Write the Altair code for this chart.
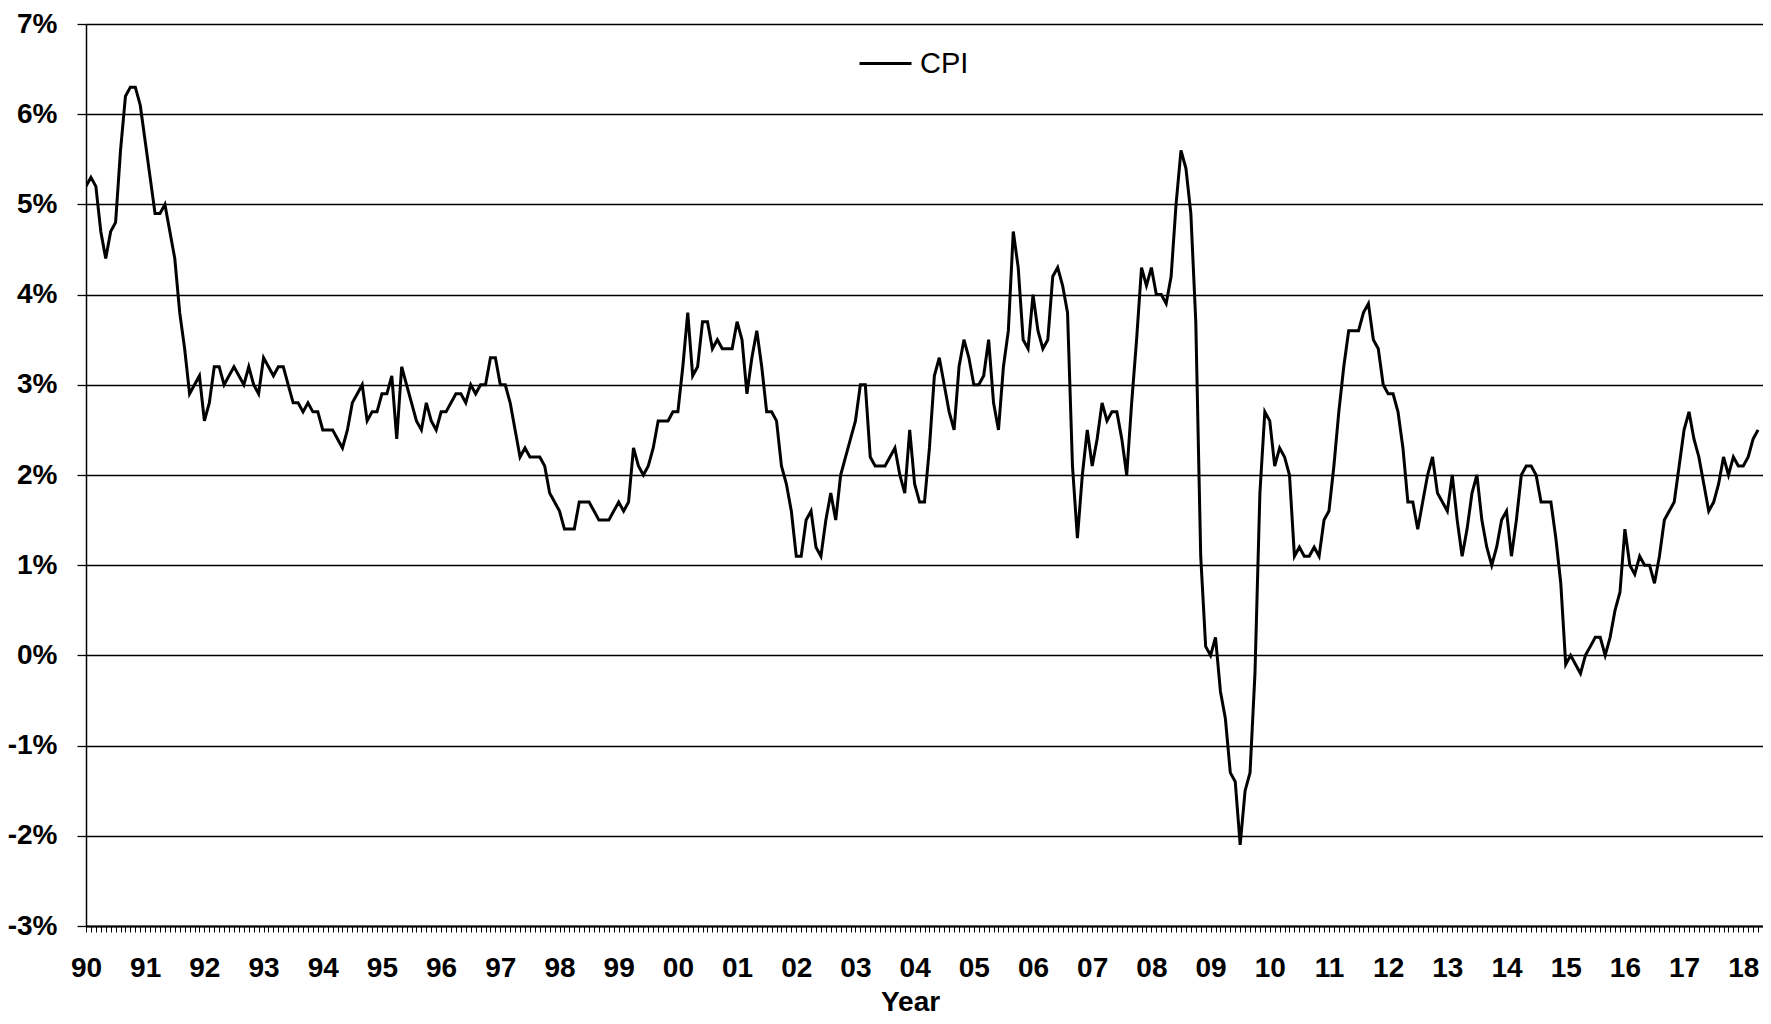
import json
import altair as alt
import pandas as pd

# Tick labels of the year axis (one per January)
year_labels = ["90", "91", "92", "93", "94", "95", "96", "97", "98", "99",
               "00", "01", "02", "03", "04", "05", "06", "07", "08", "09",
               "10", "11", "12", "13", "14", "15", "16", "17", "18"]
pct_ticks = [-3, -2, -1, 0, 1, 2, 3, 4, 5, 6, 7]

# Monthly CPI, year-over-year % (Jan..Dec)
cpi_1990 = [5.2, 5.3, 5.2, 4.7, 4.4, 4.7, 4.8, 5.6, 6.2, 6.3, 6.3, 6.1]
cpi_1991 = [5.7, 5.3, 4.9, 4.9, 5.0, 4.7, 4.4, 3.8, 3.4, 2.9, 3.0, 3.1]
cpi_1992 = [2.6, 2.8, 3.2, 3.2, 3.0, 3.1, 3.2, 3.1, 3.0, 3.2, 3.0, 2.9]
cpi_1993 = [3.3, 3.2, 3.1, 3.2, 3.2, 3.0, 2.8, 2.8, 2.7, 2.8, 2.7, 2.7]
cpi_1994 = [2.5, 2.5, 2.5, 2.4, 2.3, 2.5, 2.8, 2.9, 3.0, 2.6, 2.7, 2.7]
cpi_1995 = [2.9, 2.9, 3.1, 2.4, 3.2, 3.0, 2.8, 2.6, 2.5, 2.8, 2.6, 2.5]
cpi_1996 = [2.7, 2.7, 2.8, 2.9, 2.9, 2.8, 3.0, 2.9, 3.0, 3.0, 3.3, 3.3]
cpi_1997 = [3.0, 3.0, 2.8, 2.5, 2.2, 2.3, 2.2, 2.2, 2.2, 2.1, 1.8, 1.7]
cpi_1998 = [1.6, 1.4, 1.4, 1.4, 1.7, 1.7, 1.7, 1.6, 1.5, 1.5, 1.5, 1.6]
cpi_1999 = [1.7, 1.6, 1.7, 2.3, 2.1, 2.0, 2.1, 2.3, 2.6, 2.6, 2.6, 2.7]
cpi_2000 = [2.7, 3.2, 3.8, 3.1, 3.2, 3.7, 3.7, 3.4, 3.5, 3.4, 3.4, 3.4]
cpi_2001 = [3.7, 3.5, 2.9, 3.3, 3.6, 3.2, 2.7, 2.7, 2.6, 2.1, 1.9, 1.6]
cpi_2002 = [1.1, 1.1, 1.5, 1.6, 1.2, 1.1, 1.5, 1.8, 1.5, 2.0, 2.2, 2.4]
cpi_2003 = [2.6, 3.0, 3.0, 2.2, 2.1, 2.1, 2.1, 2.2, 2.3, 2.0, 1.8, 2.5]
cpi_2004 = [1.9, 1.7, 1.7, 2.3, 3.1, 3.3, 3.0, 2.7, 2.5, 3.2, 3.5, 3.3]
cpi_2005 = [3.0, 3.0, 3.1, 3.5, 2.8, 2.5, 3.2, 3.6, 4.7, 4.3, 3.5, 3.4]
cpi_2006 = [4.0, 3.6, 3.4, 3.5, 4.2, 4.3, 4.1, 3.8, 2.1, 1.3, 2.0, 2.5]
cpi_2007 = [2.1, 2.4, 2.8, 2.6, 2.7, 2.7, 2.4, 2.0, 2.8, 3.5, 4.3, 4.1]
cpi_2008 = [4.3, 4.0, 4.0, 3.9, 4.2, 5.0, 5.6, 5.4, 4.9, 3.7, 1.1, 0.1]
cpi_2009 = [0.0, 0.2, -0.4, -0.7, -1.3, -1.4, -2.1, -1.5, -1.3, -0.2, 1.8, 2.7]
cpi_2010 = [2.6, 2.1, 2.3, 2.2, 2.0, 1.1, 1.2, 1.1, 1.1, 1.2, 1.1, 1.5]
cpi_2011 = [1.6, 2.1, 2.7, 3.2, 3.6, 3.6, 3.6, 3.8, 3.9, 3.5, 3.4, 3.0]
cpi_2012 = [2.9, 2.9, 2.7, 2.3, 1.7, 1.7, 1.4, 1.7, 2.0, 2.2, 1.8, 1.7]
cpi_2013 = [1.6, 2.0, 1.5, 1.1, 1.4, 1.8, 2.0, 1.5, 1.2, 1.0, 1.2, 1.5]
cpi_2014 = [1.6, 1.1, 1.5, 2.0, 2.1, 2.1, 2.0, 1.7, 1.7, 1.7, 1.3, 0.8]
cpi_2015 = [-0.1, 0.0, -0.1, -0.2, 0.0, 0.1, 0.2, 0.2, 0.0, 0.2, 0.5, 0.7]
cpi_2016 = [1.4, 1.0, 0.9, 1.1, 1.0, 1.0, 0.8, 1.1, 1.5, 1.6, 1.7, 2.1]
cpi_2017 = [2.5, 2.7, 2.4, 2.2, 1.9, 1.6, 1.7, 1.9, 2.2, 2.0, 2.2, 2.1]
cpi_2018 = [2.1, 2.2, 2.4, 2.5]

yearly = [cpi_1990, cpi_1991, cpi_1992, cpi_1993, cpi_1994, cpi_1995,
          cpi_1996, cpi_1997, cpi_1998, cpi_1999, cpi_2000, cpi_2001,
          cpi_2002, cpi_2003, cpi_2004, cpi_2005, cpi_2006, cpi_2007,
          cpi_2008, cpi_2009, cpi_2010, cpi_2011, cpi_2012, cpi_2013,
          cpi_2014, cpi_2015, cpi_2016, cpi_2017, cpi_2018]

values = [v for year in yearly for v in year]
df = pd.DataFrame({
    "month": list(range(len(values))),
    "cpi": values,
    "series": ["CPI"] * len(values),
})

FONT = "Liberation Sans"
label_expr = ("datum.value % 12 == 0 ? " + json.dumps(year_labels)
              + "[datum.value / 12] : ''")

chart = alt.Chart(df).mark_line(
    color="black", strokeWidth=3, clip=True
).encode(
    x=alt.X(
        "month:Q",
        scale=alt.Scale(domain=[0, 340], nice=False, zero=False),
        axis=alt.Axis(
            values=list(range(0, 340)),
            labelExpr=label_expr,
            labelOverlap=False,
            labelFlush=False,
            grid=False,
            tickSize=6,
            tickWidth=1,
            tickColor="black",
            domainColor="black",
            domainWidth=2,
            labelFont=FONT,
            labelFontSize=28,
            labelFontWeight="bold",
            labelColor="black",
            labelPadding=22,
            title="Year",
            titleFont=FONT,
            titleFontSize=28,
            titleFontWeight="bold",
            titleColor="black",
            titleX=824,
            titleY=84,
            titleBaseline="alphabetic",
            titleAlign="center",
        ),
    ),
    y=alt.Y(
        "cpi:Q",
        scale=alt.Scale(domain=[-3, 7], nice=False, zero=False),
        axis=alt.Axis(
            values=pct_ticks,
            labelExpr="datum.value + '%'",
            grid=True,
            gridColor="black",
            gridWidth=1.3,
            gridOpacity=1,
            tickSize=9,
            tickWidth=1.3,
            tickColor="black",
            domainColor="black",
            domainWidth=1.5,
            labelFont=FONT,
            labelFontSize=28,
            labelFontWeight="bold",
            labelColor="black",
            labelPadding=20,
            title="",
        ),
    ),
    color=alt.Color(
        "series:N",
        scale=alt.Scale(range=["black"]),
        legend=alt.Legend(
            title="",
            orient="none",
            legendX=772,
            legendY=12,
            symbolType="stroke",
            symbolSize=2704,
            symbolStrokeWidth=3,
            labelFont=FONT,
            labelFontSize=29,
            labelColor="black",
            labelOffset=7,
            padding=0,
        ),
    ),
).properties(
    width=1677,
    height=902,
    padding={"left": 78, "top": 16, "right": 0, "bottom": 92},
    autosize=alt.AutoSizeParams(type="none"),
    background="white",
).configure_view(stroke="transparent")

chart.save("out.html", embed_options={"renderer": "svg", "actions": False})
